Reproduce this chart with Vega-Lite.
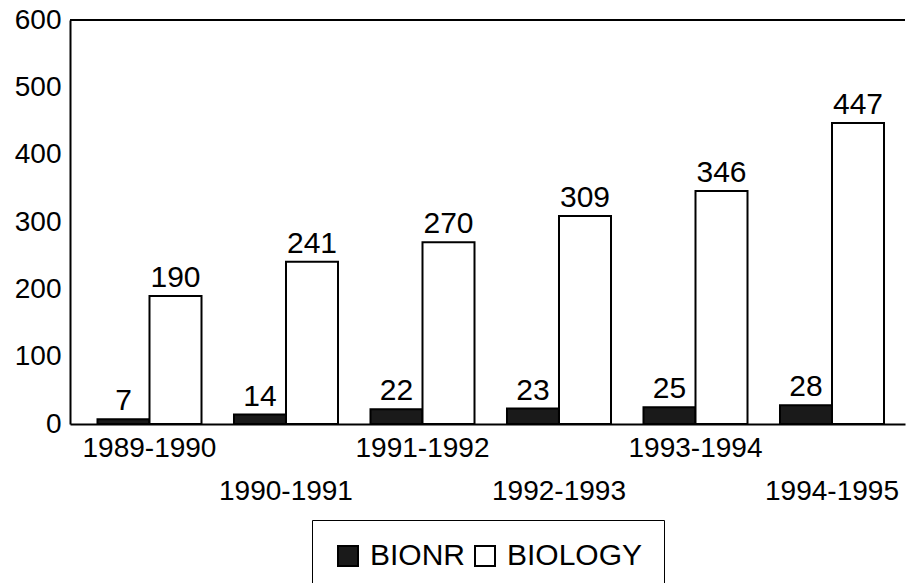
{
  "$schema": "https://vega.github.io/schema/vega-lite/v6.json",
  "width": 835,
  "height": 404,
  "autosize": "none",
  "padding": {"left": 70, "top": 20, "right": 1, "bottom": 159},
  "background": "white",
  "config": {"view": {"stroke": null}, "font": "Liberation Sans"},
  "data": {
    "values": [
      {"year": "1989-1990", "series": "BIONR", "value": 7},
      {"year": "1989-1990", "series": "BIOLOGY", "value": 190},
      {"year": "1990-1991", "series": "BIONR", "value": 14},
      {"year": "1990-1991", "series": "BIOLOGY", "value": 241},
      {"year": "1991-1992", "series": "BIONR", "value": 22},
      {"year": "1991-1992", "series": "BIOLOGY", "value": 270},
      {"year": "1992-1993", "series": "BIONR", "value": 23},
      {"year": "1992-1993", "series": "BIOLOGY", "value": 309},
      {"year": "1993-1994", "series": "BIONR", "value": 25},
      {"year": "1993-1994", "series": "BIOLOGY", "value": 346},
      {"year": "1994-1995", "series": "BIONR", "value": 28},
      {"year": "1994-1995", "series": "BIOLOGY", "value": 447}
    ]
  },
  "encoding": {
    "x": {
      "field": "year",
      "type": "nominal",
      "scale": {"paddingInner": 0.238, "paddingOuter": 0.1776, "align": 0.567},
      "axis": {
        "title": null,
        "domainColor": "black",
        "domainWidth": 2,
        "ticks": false,
        "labelAngle": 0,
        "labelFontSize": 28,
        "labelColor": "black",
        "labelPadding": 10,
        "labelOverlap": false,
        "labelLineHeight": 43,
        "labelBaseline": "top",
        "labelExpr": "indexof(['1990-1991','1992-1993','1994-1995'], datum.label) >= 0 ? ['', datum.label] : datum.label"
      }
    },
    "xOffset": {"field": "series", "type": "nominal", "sort": ["BIONR", "BIOLOGY"], "scale": {"paddingInner": 0}},
    "y": {
      "field": "value",
      "type": "quantitative",
      "scale": {"domain": [0, 600]},
      "axis": {
        "title": null,
        "values": [0, 100, 200, 300, 400, 500, 600],
        "grid": false,
        "domainColor": "black",
        "domainWidth": 2,
        "ticks": false,
        "labelPadding": 9,
        "labelFontSize": 28,
        "labelColor": "black"
      }
    }
  },
  "layer": [
    {
      "mark": {"type": "bar", "stroke": "black", "strokeWidth": 2},
      "encoding": {
        "fill": {
          "field": "series",
          "type": "nominal",
          "scale": {"domain": ["BIONR", "BIOLOGY"], "range": ["#1a1a1a", "white"]},
          "legend": {
            "title": null,
            "orient": "none",
            "legendX": 242,
            "legendY": 500,
            "direction": "horizontal",
            "strokeColor": "black",
            "padding": 21,
            "symbolType": "square",
            "symbolSize": 400,
            "symbolStrokeColor": "black",
            "symbolStrokeWidth": 2,
            "labelFontSize": 30,
            "labelColor": "black",
            "labelOffset": 7,
            "columnPadding": 4
          }
        }
      }
    },
    {
      "mark": {"type": "text", "baseline": "bottom", "dy": -3, "fontSize": 30, "color": "black"},
      "encoding": {"text": {"field": "value", "type": "quantitative"}}
    },
    {
      "mark": {"type": "rule", "stroke": "black", "strokeWidth": 2},
      "encoding": {"x": null, "xOffset": null, "y": {"datum": 600}}
    }
  ]
}
